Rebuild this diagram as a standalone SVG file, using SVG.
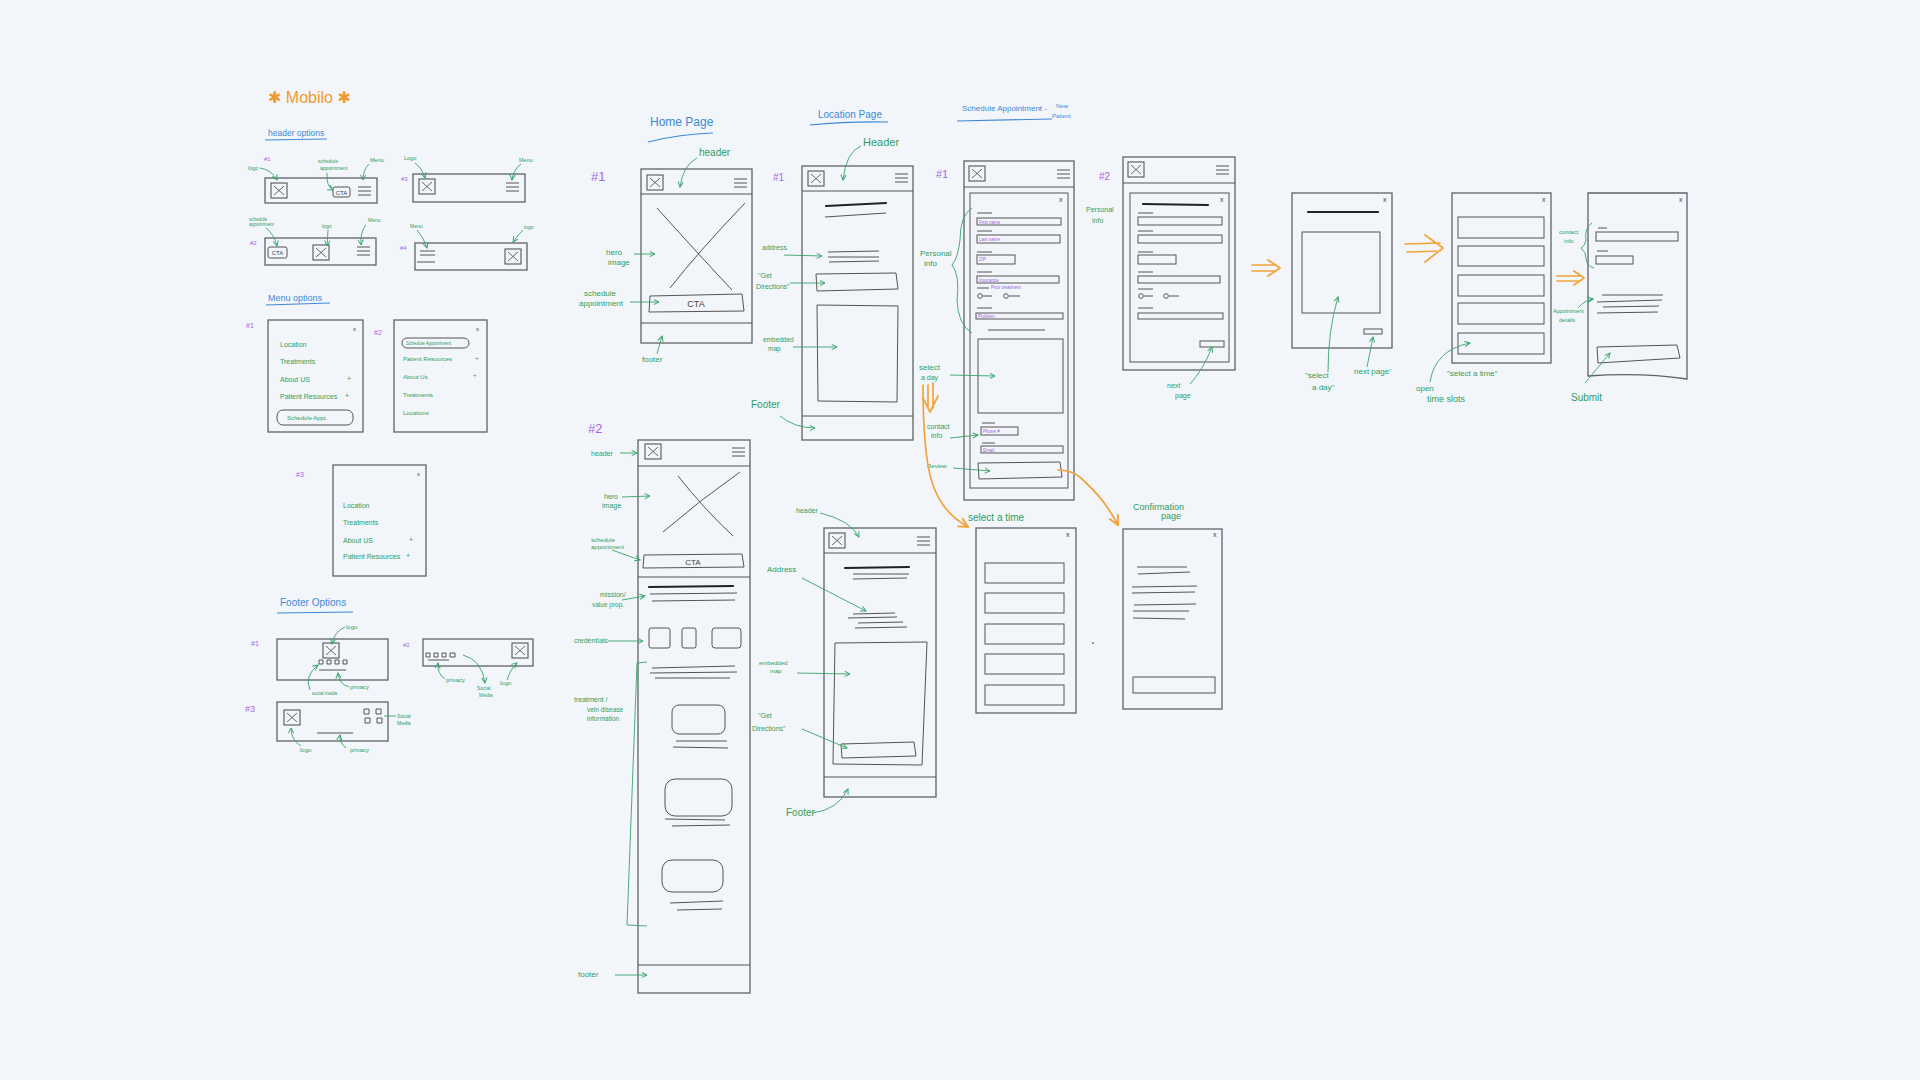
<svg xmlns="http://www.w3.org/2000/svg" xmlns:xlink="http://www.w3.org/1999/xlink" width="1920" height="1080" viewBox="0 0 1920 1080">
<style>
.fr{fill:none;stroke:#5f6368;stroke-width:1.3}
.ln{fill:none;stroke:#555;stroke-width:1}
.tk{fill:none;stroke:#222;stroke-width:2.2;stroke-linecap:round}
.ga{fill:none;stroke:#37a46a;stroke-width:0.9;marker-end:url(#ag)}
.gn{fill:none;stroke:#37a46a;stroke-width:0.9}
.or{fill:none;stroke:#f2a33a;stroke-width:1.7;stroke-linecap:round;stroke-linejoin:round}
.orx{fill:none;stroke:#f2a33a;stroke-width:1.7;stroke-linecap:round;marker-end:url(#ao)}
text{font-family:"Liberation Sans","DejaVu Sans",sans-serif}
.g{fill:#2f9e5f}
.p{fill:#a468e6}
.pf{fill:#9a5fe0;font-size:4.5px}
.b{fill:#3c8ad6}
.o{fill:#f29a2e}
.k{fill:#444}
.bl{fill:none;stroke:#3c8ad6;stroke-width:1.2}
</style>
<defs>
<marker id="ag" viewBox="0 0 8 8" refX="7" refY="4" markerWidth="7" markerHeight="7" markerUnits="userSpaceOnUse" orient="auto"><path d="M1,1 L7,4 L1,7" fill="none" stroke="#37a46a" stroke-width="1.1"/></marker>
<marker id="ao" viewBox="0 0 10 10" refX="9" refY="5" markerWidth="12" markerHeight="12" markerUnits="userSpaceOnUse" orient="auto"><path d="M1,1 L9,5 L1,9" fill="none" stroke="#f2a33a" stroke-width="1.6"/></marker>
<g id="xb"><rect x="0" y="0" width="16" height="15" fill="none" stroke="#555" stroke-width="1.1"/><path d="M3,3 L13,12 M13,3 L3,12" stroke="#555" stroke-width="0.9" fill="none"/></g>
<g id="mn"><path d="M0,1 H13 M0,5 H13 M0,9 H13" stroke="#555" stroke-width="1" fill="none"/></g>
</defs>
<rect x="0" y="0" width="1920" height="1080" fill="#f2f5fa"/>

<!-- Title -->
<g id="title">
<text class="o" x="268" y="103" font-size="16">✱ Mobilo ✱</text>
</g>

<!-- Header options -->
<g id="header-options">
<text class="b" x="268" y="136" font-size="8.5">header options</text>
<path class="bl" d="M265,140 L327,139"/>
</g>
<g id="header-1">
<text class="p" x="264" y="161" font-size="6">#1</text>
<rect class="fr" x="265" y="178" width="112" height="25"/>
<use href="#xb" x="271" y="183"/>
<rect class="ln" x="333" y="187" width="17" height="10" rx="2"/>
<text class="k" x="341.5" y="195" font-size="6" text-anchor="middle">CTA</text>
<use href="#mn" x="358" y="186"/>
<text class="g" x="248" y="170" font-size="5.5">logo</text>
<text class="g" x="318" y="163" font-size="5">schedule</text>
<text class="g" x="320" y="170" font-size="5">appointment</text>
<text class="g" x="370" y="162" font-size="5.5">Menu</text>
</g>
<g id="header-3">
<text class="p" x="401" y="181" font-size="6">#3</text>
<rect class="fr" x="413" y="174" width="112" height="28"/>
<use href="#xb" x="419" y="179"/>
<use href="#mn" x="506" y="182"/>
<text class="g" x="404" y="160" font-size="5.5">Logo</text>
<text class="g" x="519" y="162" font-size="5.5">Menu</text>
</g>
<g id="header-2">
<text class="p" x="250" y="245" font-size="6">#2</text>
<rect class="fr" x="265" y="238" width="111" height="27"/>
<rect class="ln" x="268" y="247" width="19" height="11" rx="2"/>
<text class="k" x="277.5" y="255" font-size="6" text-anchor="middle">CTA</text>
<use href="#xb" x="313" y="245"/>
<use href="#mn" x="357" y="246"/>
<text class="g" x="249" y="221" font-size="4.5">schedule</text>
<text class="g" x="249" y="226" font-size="4.5">appointment</text>
<text class="g" x="322" y="228" font-size="5">logo</text>
<text class="g" x="368" y="222" font-size="5">Menu</text>
</g>
<g id="header-4">
<text class="p" x="400" y="250" font-size="6">#4</text>
<rect class="fr" x="415" y="243" width="112" height="27"/>
<path class="ln" d="M420,251 H435 M420,255 H435 M417,262 H435"/>
<use href="#xb" x="505" y="249"/>
<text class="g" x="410" y="228" font-size="5">Menu</text>
<text class="g" x="524" y="229" font-size="5">logo</text>
</g>

<!-- Menu options -->
<g id="menu-options">
<text class="b" x="268" y="301" font-size="9">Menu options</text>
<path class="bl" d="M266,305 L330,303"/>
</g>
<g id="menu-1">
<text class="p" x="246" y="328" font-size="7">#1</text>
<rect class="fr" x="268" y="320" width="95" height="112"/>
<text class="k" x="353" y="331" font-size="6">x</text>
<text class="g" x="280" y="347" font-size="7">Location</text>
<text class="g" x="280" y="364" font-size="7">Treatments</text>
<text class="g" x="280" y="382" font-size="7">About US</text>
<text class="g" x="347" y="381" font-size="7">+</text>
<text class="g" x="280" y="399" font-size="7">Patient Resources</text>
<text class="g" x="345" y="398" font-size="7">+</text>
<rect class="ln" x="277" y="410" width="76" height="15" rx="6"/>
<text class="g" x="287" y="420" font-size="6">Schedule Appt.</text>
</g>
<g id="menu-2">
<text class="p" x="374" y="335" font-size="7">#2</text>
<rect class="fr" x="394" y="320" width="93" height="112"/>
<text class="k" x="476" y="331" font-size="6">x</text>
<rect class="ln" x="402" y="338" width="67" height="10" rx="5"/>
<text class="g" x="406" y="345" font-size="4.5">Schedule Appointment</text>
<text class="g" x="403" y="361" font-size="6">Patient Resources</text>
<text class="g" x="475" y="360" font-size="6">+</text>
<text class="g" x="403" y="379" font-size="6">About Us</text>
<text class="g" x="473" y="377" font-size="6">+</text>
<text class="g" x="403" y="397" font-size="6">Treatments</text>
<text class="g" x="403" y="415" font-size="6">Locations</text>
</g>
<g id="menu-3">
<text class="p" x="296" y="477" font-size="7">#3</text>
<rect class="fr" x="333" y="465" width="93" height="111"/>
<text class="k" x="417" y="476" font-size="6">x</text>
<text class="g" x="343" y="508" font-size="7">Location</text>
<text class="g" x="343" y="525" font-size="7">Treatments</text>
<text class="g" x="343" y="543" font-size="7">About US</text>
<text class="g" x="409" y="542" font-size="7">+</text>
<text class="g" x="343" y="559" font-size="7">Patient Resources</text>
<text class="g" x="406" y="558" font-size="7">+</text>
</g>

<!-- Footer options -->
<g id="footer-options">
<text class="b" x="280" y="606" font-size="10">Footer Options</text>
<path class="bl" d="M277,613 L353,612"/>
</g>
<g id="footer-1">
<text class="p" x="251" y="646" font-size="7">#1</text>
<rect class="fr" x="277" y="639" width="111" height="41"/>
<use href="#xb" x="323" y="643"/>
<path class="ln" d="M319,660 h4 v4 h-4 z M327,660 h4 v4 h-4 z M335,660 h4 v4 h-4 z M343,660 h4 v4 h-4 z M319,670 L346,670"/>
<text class="g" x="346" y="629" font-size="6">logo</text>
<text class="g" x="312" y="695" font-size="4.5">social media</text>
<text class="g" x="350" y="689" font-size="6">privacy</text>
</g>
<g id="footer-2">
<text class="p" x="403" y="647" font-size="6">#2</text>
<rect class="fr" x="423" y="639" width="110" height="27"/>
<path class="ln" d="M426,653 h4 v4 h-4 z M434,653 h4 v4 h-4 z M442,653 h4 v4 h-4 z M450,653 h5 v4 h-5 z M428,660 L449,660"/>
<use href="#xb" x="512" y="643"/>
<text class="g" x="446" y="682" font-size="6">privacy</text>
<text class="g" x="477" y="690" font-size="5">Social</text>
<text class="g" x="479" y="697" font-size="5">Media</text>
<text class="g" x="500" y="685" font-size="6">logo</text>
</g>
<g id="footer-3">
<text class="p" x="245" y="712" font-size="9">#3</text>
<rect class="fr" x="277" y="702" width="111" height="39"/>
<use href="#xb" x="284" y="710"/>
<path class="ln" d="M364,709 h5 v5 h-5 z M376,709 h5 v5 h-5 z M365,718 h5 v5 h-5 z M377,718 h5 v5 h-5 z M317,733 L353,733"/>
<text class="g" x="397" y="718" font-size="5">Social</text>
<text class="g" x="397" y="725" font-size="5">Media</text>
<text class="g" x="300" y="752" font-size="6">logo</text>
<text class="g" x="350" y="752" font-size="6">privacy</text>
</g>

<!-- Home page -->
<g id="home-title">
<text class="b" x="650" y="126" font-size="12">Home Page</text>
<path class="bl" d="M648,142 Q680,134 713,133"/>
</g>
<g id="home-1">
<text class="p" x="591" y="181" font-size="13">#1</text>
<rect class="fr" x="641" y="169" width="111" height="174"/>
<path class="ln" d="M641,194 H752 M641,323 H752"/>
<use href="#xb" x="647" y="175"/>
<use href="#mn" x="734" y="178"/>
<path class="ln" d="M657,208 Q690,245 732,290 M745,203 Q700,250 670,288"/>
<path class="ln" d="M650,296 L742,294 L744,311 L649,312 Z"/>
<text class="k" x="696" y="307" font-size="9" text-anchor="middle">CTA</text>
<text class="g" x="699" y="156" font-size="10">header</text>
<text class="g" x="606" y="255" font-size="8">hero</text>
<text class="g" x="608" y="265" font-size="8">image</text>
<text class="g" x="584" y="296" font-size="8">schedule</text>
<text class="g" x="579" y="306" font-size="8">appointment</text>
<text class="g" x="642" y="362" font-size="8">footer</text>
</g>
<g id="home-2">
<text class="p" x="588" y="433" font-size="13">#2</text>
<rect class="fr" x="638" y="440" width="112" height="553"/>
<path class="ln" d="M638,466 H750 M638,577 H750 M638,965 H750"/>
<use href="#xb" x="645" y="444"/>
<use href="#mn" x="732" y="447"/>
<path class="ln" d="M663,532 Q700,500 740,472 M678,476 Q705,510 733,536"/>
<path class="ln" d="M644,555 L742,554 L744,567 L643,568 Z"/>
<text class="k" x="693" y="565" font-size="8" text-anchor="middle">CTA</text>
<path class="tk" d="M649,587 L733,586"/>
<path class="ln" d="M650,594 L737,593 M652,601 L735,600"/>
<rect class="ln" x="649" y="628" width="21" height="20" rx="2"/>
<rect class="ln" x="682" y="628" width="14" height="20" rx="2"/>
<rect class="ln" x="712" y="628" width="29" height="20" rx="3"/>
<path class="ln" d="M652,668 L735,666 M650,673 L737,672 M655,678 L730,678"/>
<rect class="ln" x="672" y="705" width="53" height="29" rx="7"/>
<path class="ln" d="M676,741 L727,741 M673,747 L728,748"/>
<rect class="ln" x="665" y="779" width="67" height="37" rx="10"/>
<path class="ln" d="M665,819 L725,820 M672,826 L730,825"/>
<rect class="ln" x="662" y="860" width="61" height="32" rx="10"/>
<path class="ln" d="M670,903 L723,901 M677,910 L722,909"/>
<text class="g" x="591" y="456" font-size="7">header</text>
<text class="g" x="604" y="499" font-size="7">hero</text>
<text class="g" x="602" y="508" font-size="7">image</text>
<text class="g" x="591" y="542" font-size="6">schedule</text>
<text class="g" x="591" y="549" font-size="6">appointment</text>
<text class="g" x="600" y="597" font-size="7">mission/</text>
<text class="g" x="592" y="607" font-size="6.5">value prop.</text>
<text class="g" x="574" y="643" font-size="7">credentials</text>
<text class="g" x="574" y="702" font-size="7">treatment /</text>
<text class="g" x="587" y="712" font-size="6.5">vein disease</text>
<text class="g" x="587" y="721" font-size="6.5">information</text>
<text class="g" x="578" y="977" font-size="8">footer</text>
</g>

<!-- Location page -->
<g id="location-title">
<text class="b" x="818" y="118" font-size="10">Location Page</text>
<path class="bl" d="M810,125 Q850,121 888,122"/>
</g>
<g id="location-1">
<text class="p" x="773" y="181" font-size="10">#1</text>
<rect class="fr" x="802" y="166" width="111" height="274"/>
<path class="ln" d="M802,191 H913 M802,416 H913"/>
<use href="#xb" x="808" y="171"/>
<use href="#mn" x="895" y="173"/>
<path class="tk" d="M826,206 L886,203"/>
<path class="ln" d="M825,217 L886,213"/>
<path class="ln" d="M828,252 L879,251 M828,257 L879,257 M829,262 L879,261" stroke-width="1.4"/>
<path class="ln" d="M816,274 L896,273 L898,289 L817,291 Z"/>
<path class="ln" d="M817,305 L898,306 L897,402 L818,401 Z"/>
<text class="g" x="863" y="146" font-size="11">Header</text>
<text class="g" x="762" y="250" font-size="7">address</text>
<text class="g" x="758" y="278" font-size="7">"Get</text>
<text class="g" x="756" y="289" font-size="7">Directions"</text>
<text class="g" x="763" y="342" font-size="6.5">embedded</text>
<text class="g" x="768" y="351" font-size="6.5">map</text>
<text class="g" x="751" y="408" font-size="10">Footer</text>
</g>
<g id="location-2">
<rect class="fr" x="824" y="528" width="112" height="269"/>
<path class="ln" d="M824,553 H936 M824,777 H936"/>
<use href="#xb" x="829" y="533"/>
<use href="#mn" x="917" y="536"/>
<path class="tk" d="M845,568 L909,567"/>
<path class="ln" d="M853,574 L909,574 M853,579 L907,578"/>
<path class="ln" d="M853,614 L895,613 M848,618 L897,617 M858,623 L903,622 M855,628 L907,627"/>
<path class="ln" d="M835,643 L927,642 L922,765 L833,764 Z"/>
<path class="ln" d="M841,744 L914,742 L916,756 L842,758 Z"/>
<text class="g" x="796" y="513" font-size="7">header</text>
<text class="g" x="767" y="572" font-size="8">Address</text>
<text class="g" x="759" y="665" font-size="6">embedded</text>
<text class="g" x="770" y="673" font-size="6">map</text>
<text class="g" x="758" y="718" font-size="7">"Get</text>
<text class="g" x="752" y="731" font-size="7">Directions"</text>
<text class="g" x="786" y="816" font-size="10">Footer</text>
</g>

<!-- Schedule appointment -->
<g id="schedule-title">
<text class="b" x="962" y="111" font-size="8">Schedule Appointment -</text>
<text class="b" x="1056" y="108" font-size="6">New</text>
<text class="b" x="1052" y="118" font-size="6">Patient</text>
<path class="bl" d="M957,121 L1052,119"/>
</g>
<g id="schedule-1">
<text class="p" x="936" y="178" font-size="11">#1</text>
<rect class="fr" x="964" y="161" width="110" height="339"/>
<path class="ln" d="M964,187 H1074"/>
<use href="#xb" x="969" y="166"/>
<use href="#mn" x="1057" y="169"/>
<rect class="ln" x="970" y="193" width="98" height="295"/>
<text class="k" x="1059" y="202" font-size="7">x</text>
<path class="ln" d="M977,213 H992 M977,231 H992 M977,252 H992 M977,272 H992 M977,308 H992 M982,423 H995 M982,443 H995 M977,288 H989"/>
<rect class="ln" x="977" y="218" width="84" height="7"/>
<rect class="ln" x="977" y="235" width="83" height="8"/>
<rect class="ln" x="977" y="255" width="38" height="9"/>
<rect class="ln" x="977" y="276" width="82" height="7"/>
<rect class="ln" x="976" y="313" width="87" height="6"/>
<rect class="ln" x="981" y="427" width="37" height="8"/>
<rect class="ln" x="981" y="446" width="82" height="7"/>
<text class="pf" x="979" y="223.5">First name</text>
<text class="pf" x="979" y="241">Last name</text>
<text class="pf" x="979" y="261">ZIP</text>
<text class="pf" x="979" y="281.5">Insurance</text>
<text class="pf" x="991" y="289">Prior treatment</text>
<text class="pf" x="978" y="318">Problem</text>
<text class="pf" x="983" y="433">Phone #</text>
<text class="pf" x="983" y="451.5">Email</text>
<circle class="ln" cx="980" cy="296" r="2.3"/>
<circle class="ln" cx="1006" cy="296" r="2.3"/>
<path class="ln" d="M983,296 H992 M1009,296 H1020"/>
<path class="ln" d="M988,330 L1045,330" stroke-width="1.5"/>
<rect class="ln" x="978" y="339" width="85" height="74"/>
<path class="ln" d="M978,463 L1060,462 L1062,477 L979,479 Z"/>
<text class="g" x="920" y="256" font-size="8">Personal</text>
<text class="g" x="924" y="266" font-size="8">info</text>
<text class="g" x="919" y="370" font-size="8">select</text>
<text class="g" x="921" y="380" font-size="7">a day</text>
<text class="g" x="927" y="429" font-size="7">contact</text>
<text class="g" x="931" y="438" font-size="7">info</text>
<text class="g" x="927" y="468" font-size="6">Review</text>
</g>
<g id="schedule-2">
<text class="p" x="1099" y="180" font-size="10">#2</text>
<rect class="fr" x="1123" y="157" width="112" height="213"/>
<path class="ln" d="M1123,183 H1235"/>
<use href="#xb" x="1128" y="162"/>
<use href="#mn" x="1216" y="165"/>
<rect class="ln" x="1130" y="193" width="99" height="169"/>
<text class="k" x="1220" y="202" font-size="7">x</text>
<path class="tk" d="M1143,204 L1208,205" stroke-width="1.5"/>
<path class="ln" d="M1138,213 H1153 M1138,231 H1153 M1138,252 H1153 M1138,272 H1153 M1138,289 H1153 M1138,308 H1153"/>
<rect class="ln" x="1138" y="217" width="84" height="8"/>
<rect class="ln" x="1138" y="235" width="84" height="8"/>
<rect class="ln" x="1138" y="255" width="38" height="9"/>
<rect class="ln" x="1138" y="276" width="82" height="7"/>
<rect class="ln" x="1138" y="313" width="85" height="6"/>
<circle class="ln" cx="1141" cy="296" r="2.3"/>
<circle class="ln" cx="1166" cy="296" r="2.3"/>
<path class="ln" d="M1144,296 H1153 M1169,296 H1179"/>
<rect class="ln" x="1200" y="341" width="24" height="6"/>
<text class="g" x="1086" y="212" font-size="7">Personal</text>
<text class="g" x="1092" y="223" font-size="7">info</text>
<text class="g" x="1167" y="388" font-size="7">next</text>
<text class="g" x="1175" y="398" font-size="7">page</text>
</g>
<g id="select-time">
<text class="g" x="968" y="521" font-size="10">select a time</text>
<rect class="fr" x="976" y="528" width="100" height="185"/>
<text class="k" x="1066" y="537" font-size="7">x</text>
<rect class="ln" x="985" y="563" width="79" height="20"/>
<rect class="ln" x="985" y="593" width="79" height="20"/>
<rect class="ln" x="985" y="624" width="79" height="20"/>
<rect class="ln" x="985" y="654" width="79" height="20"/>
<rect class="ln" x="985" y="685" width="79" height="20"/>
</g>
<g id="confirmation">
<text class="g" x="1133" y="510" font-size="9">Confirmation</text>
<text class="g" x="1161" y="519" font-size="9">page</text>
<rect class="fr" x="1123" y="529" width="99" height="180"/>
<text class="k" x="1213" y="537" font-size="7">x</text>
<path class="ln" d="M1137,567 L1187,567 M1138,574 L1190,572 M1132,587 L1197,586 M1132,593 L1195,592 M1134,605 L1196,604 M1133,611 L1189,611 M1133,618 L1185,619"/>
<rect class="ln" x="1133" y="677" width="82" height="16"/>
<circle cx="1093" cy="643" r="1" fill="#2f9e5f"/>
</g>
<g id="select-day">
<rect class="fr" x="1292" y="193" width="100" height="155"/>
<text class="k" x="1383" y="202" font-size="7">x</text>
<path class="tk" d="M1308,212 L1378,212" stroke-width="1.8"/>
<rect class="ln" x="1302" y="232" width="78" height="81"/>
<rect class="ln" x="1364" y="329" width="18" height="5"/>
<text class="g" x="1305" y="378" font-size="8">"select</text>
<text class="g" x="1312" y="390" font-size="8">a day"</text>
<text class="g" x="1354" y="374" font-size="8">next page'</text>
</g>
<g id="time-slots">
<rect class="fr" x="1452" y="193" width="99" height="170"/>
<text class="k" x="1542" y="202" font-size="7">x</text>
<rect class="ln" x="1458" y="217" width="86" height="21"/>
<rect class="ln" x="1458" y="246" width="86" height="20"/>
<rect class="ln" x="1458" y="275" width="86" height="21"/>
<rect class="ln" x="1458" y="303" width="86" height="21"/>
<rect class="ln" x="1458" y="333" width="86" height="21"/>
<text class="g" x="1447" y="376" font-size="8">"select a time"</text>
<text class="g" x="1416" y="391" font-size="8">open</text>
<text class="g" x="1427" y="402" font-size="9">time slots</text>
</g>
<g id="submit-page">
<path class="fr" d="M1588,193 H1687 V379 Q1640,372 1588,376 Z"/>
<text class="k" x="1679" y="202" font-size="7">x</text>
<path class="ln" d="M1598,228 H1607 M1597,251 H1608"/>
<rect class="ln" x="1596" y="232" width="82" height="9"/>
<rect class="ln" x="1596" y="256" width="37" height="8"/>
<path class="ln" d="M1602,295 L1663,295 M1597,302 L1662,300 M1603,307 L1659,306 M1597,313 L1658,312"/>
<path class="ln" d="M1597,347 L1677,345 L1680,358 L1598,363 Z"/>
<text class="g" x="1559" y="234" font-size="6">contact</text>
<text class="g" x="1564" y="243" font-size="6">info</text>
<text class="g" x="1553" y="313" font-size="5.5">Appointment</text>
<text class="g" x="1559" y="322" font-size="5.5">details</text>
<text class="g" x="1571" y="401" font-size="10">Submit</text>
</g>

<!-- Connectors -->
<g id="connectors">
<path class="ga" d="M260,168 Q272,170 277,180"/>
<path class="ga" d="M327,173 Q326,186 333,190"/>
<path class="ga" d="M369,164 Q363,170 363,180"/>
<path class="ga" d="M415,163 Q422,168 425,178"/>
<path class="ga" d="M521,164 Q513,170 512,180"/>
<path class="ga" d="M266,228 Q274,234 277,246"/>
<path class="ga" d="M328,230 L327,246"/>
<path class="ga" d="M366,225 Q360,232 361,245"/>
<path class="ga" d="M417,230 Q424,238 427,248"/>
<path class="ga" d="M523,230 Q517,236 513,242"/>
<path class="ga" d="M345,627 Q334,632 332,644"/>
<path class="ga" d="M310,690 Q304,676 318,665"/>
<path class="ga" d="M349,687 Q339,684 338,673"/>
<path class="ga" d="M445,679 Q437,674 438,663"/>
<path class="ga" d="M463,655 Q482,660 485,683"/>
<path class="ga" d="M507,680 Q511,668 517,663"/>
<path class="gn" d="M396,716 L384,716"/>
<path class="ga" d="M301,746 Q291,740 291,728"/>
<path class="ga" d="M346,748 Q339,742 340,735"/>
<path class="ga" d="M697,158 Q683,165 680,187"/>
<path class="ga" d="M634,254 L655,254"/>
<path class="ga" d="M630,302 L659,302"/>
<path class="ga" d="M657,354 L662,336"/>
<path class="ga" d="M620,453 L637,453"/>
<path class="ga" d="M622,497 L650,496"/>
<path class="ga" d="M612,550 L640,560"/>
<path class="ga" d="M622,600 L645,596"/>
<path class="ga" d="M608,641 L643,641"/>
<path class="gn" d="M647,662 L637,663 L627,925 L647,926"/>
<path class="ga" d="M615,975 L647,975"/>
<path class="ga" d="M861,146 Q846,152 843,180"/>
<path class="ga" d="M784,255 L822,256"/>
<path class="ga" d="M790,283 L825,283"/>
<path class="ga" d="M793,347 L837,347"/>
<path class="ga" d="M780,416 Q795,428 815,428"/>
<path class="ga" d="M820,513 Q850,520 859,537"/>
<path class="ga" d="M802,578 L866,611"/>
<path class="ga" d="M797,673 L850,674"/>
<path class="ga" d="M802,729 L847,748"/>
<path class="ga" d="M812,813 Q838,810 848,789"/>
<path class="gn" d="M972,208 Q960,215 960,240 Q958,258 952,265 Q960,275 957,300 Q958,325 972,333"/>
<path class="ga" d="M950,375 L995,376"/>
<path class="ga" d="M950,438 L978,435"/>
<path class="ga" d="M953,468 L990,471"/>
<path class="ga" d="M1190,384 Q1203,370 1212,347"/>
<path class="ga" d="M1328,372 Q1328,330 1338,297"/>
<path class="ga" d="M1367,367 L1373,337"/>
<path class="ga" d="M1430,382 Q1435,350 1470,343"/>
<path class="gn" d="M1592,223 Q1584,228 1586,240 Q1585,246 1581,248 Q1586,252 1586,258 Q1586,266 1594,268"/>
<path class="ga" d="M1578,308 Q1585,300 1593,299"/>
<path class="ga" d="M1585,383 L1610,353"/>
<path class="or" d="M928,385 L928,408 M933,383 L933,408 M923,398 L930,412 L938,396"/>
<path class="orx" d="M923,385 C923,470 930,505 968,527"/>
<path class="orx" d="M1058,470 Q1075,470 1085,482 Q1105,500 1118,525"/>
<path class="or" d="M1252,265 L1276,265 M1252,271 L1276,271 M1268,260 L1280,268 L1268,276"/>
<path class="or" d="M1405,244 L1440,243 M1407,252 L1440,251 M1425,235 L1443,248 L1425,262"/>
<path class="or" d="M1557,276 L1580,276 M1557,281 L1580,281 M1574,271 L1584,278 L1574,285"/>
</g>
</svg>
